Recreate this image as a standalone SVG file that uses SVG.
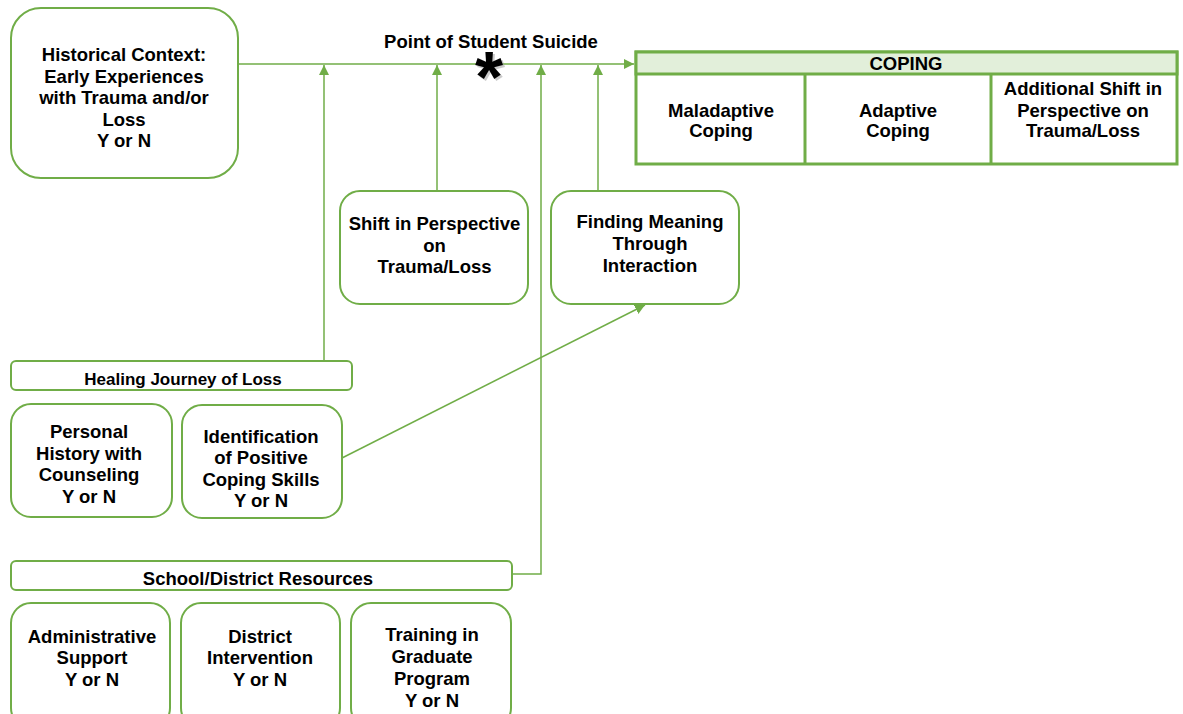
<svg xmlns="http://www.w3.org/2000/svg" width="1183" height="714" viewBox="0 0 1183 714">
<style>
.box{fill:#fff;stroke:#70ad47;stroke-width:2}
.t{font-family:"Liberation Sans",Arial,sans-serif;font-weight:bold;font-size:18.5px;fill:#000;text-anchor:middle}
.s{font-size:17px}
.ln{fill:none;stroke:#70ad47;stroke-width:1.5}
.tbl{stroke:#70ad47;stroke-width:3}
.ast{font-family:"Liberation Sans",Arial,sans-serif;font-weight:bold;font-size:72px;text-anchor:middle}
</style>
<defs>
<marker id="ah" viewBox="0 0 10 10" refX="10" refY="5" markerWidth="10" markerHeight="10" markerUnits="userSpaceOnUse" orient="auto">
<path d="M0,0 L10,5 L0,10 Z" fill="#70ad47"/>
</marker>
</defs>
<rect width="1183" height="714" fill="#fff"/>
<g id="connectors">
<line class="ln" x1="238" y1="64" x2="634" y2="64" marker-end="url(#ah)"/>
<line class="ln" x1="324" y1="361" x2="324" y2="65" marker-end="url(#ah)"/>
<line class="ln" x1="437" y1="191" x2="437" y2="65" marker-end="url(#ah)"/>
<polyline class="ln" points="512,574 541,574 541,65" marker-end="url(#ah)"/>
<line class="ln" x1="598" y1="191" x2="598" y2="65" marker-end="url(#ah)"/>
<line class="ln" x1="342" y1="458" x2="645" y2="305" marker-end="url(#ah)"/>
</g>
<g id="point-of-suicide">
<text class="t" x="491" y="48">Point of Student Suicide</text>
<text class="ast" x="491" y="104" fill="#999" opacity="0.5">*</text>
<text class="ast" x="489" y="102" fill="#000">*</text>
</g>
<g id="historical">
<rect class="box" x="11" y="8" width="227" height="170" rx="30"/>
<text class="t" x="124" y="61">Historical Context:</text>
<text class="t" x="124" y="82.5">Early Experiences</text>
<text class="t" x="124" y="104">with Trauma and/or</text>
<text class="t" x="124" y="125.5">Loss</text>
<text class="t" x="124" y="147">Y or N</text>
</g>
<g id="coping">
<rect x="636" y="52" width="541" height="112" fill="#fff" class="tbl"/>
<rect x="636" y="52" width="541" height="22" fill="#e2efda" class="tbl"/>
<line class="tbl" x1="805" y1="74" x2="805" y2="164"/>
<line class="tbl" x1="991" y1="74" x2="991" y2="164"/>
<text class="t" x="906" y="70">COPING</text>
<text class="t" x="721" y="116.5">Maladaptive</text>
<text class="t" x="721" y="137">Coping</text>
<text class="t" x="898" y="116.5">Adaptive</text>
<text class="t" x="898" y="137">Coping</text>
<text class="t" x="1083" y="95">Additional Shift in</text>
<text class="t" x="1083" y="116.5">Perspective on</text>
<text class="t" x="1083" y="137">Trauma/Loss</text>
</g>
<g id="shift">
<rect class="box" x="340" y="191" width="188" height="113" rx="20"/>
<text class="t" x="434.5" y="230">Shift in Perspective</text>
<text class="t" x="434.5" y="252">on</text>
<text class="t" x="434.5" y="273">Trauma/Loss</text>
</g>
<g id="finding">
<rect class="box" x="551" y="191" width="188" height="113" rx="20"/>
<text class="t" x="650" y="228">Finding Meaning</text>
<text class="t" x="650" y="250">Through</text>
<text class="t" x="650" y="272">Interaction</text>
</g>
<g id="healing">
<rect class="box" x="11" y="361" width="341" height="29" rx="5"/>
<text class="t s" x="183" y="385">Healing Journey of Loss</text>
</g>
<g id="personal">
<rect class="box" x="11" y="404" width="161" height="113" rx="20"/>
<text class="t" x="89" y="438">Personal</text>
<text class="t" x="89" y="460">History with</text>
<text class="t" x="89" y="481">Counseling</text>
<text class="t" x="89" y="503">Y or N</text>
</g>
<g id="identification">
<rect class="box" x="182" y="405" width="160" height="113" rx="20"/>
<text class="t" x="261" y="443">Identification</text>
<text class="t" x="261" y="464">of Positive</text>
<text class="t" x="261" y="485.5">Coping Skills</text>
<text class="t" x="261" y="507">Y or N</text>
</g>
<g id="school">
<rect class="box" x="11" y="561" width="501" height="29" rx="5"/>
<text class="t" x="258" y="585">School/District Resources</text>
</g>
<g id="admin">
<rect class="box" x="11" y="603" width="159" height="125" rx="20"/>
<text class="t" x="92" y="642.5">Administrative</text>
<text class="t" x="92" y="664">Support</text>
<text class="t" x="92" y="686">Y or N</text>
</g>
<g id="district">
<rect class="box" x="181" y="603" width="159" height="125" rx="20"/>
<text class="t" x="260" y="642.5">District</text>
<text class="t" x="260" y="664">Intervention</text>
<text class="t" x="260" y="686">Y or N</text>
</g>
<g id="training">
<rect class="box" x="351" y="603" width="160" height="125" rx="20"/>
<text class="t" x="432" y="641">Training in</text>
<text class="t" x="432" y="663">Graduate</text>
<text class="t" x="432" y="685">Program</text>
<text class="t" x="432" y="707">Y or N</text>
</g>
</svg>
